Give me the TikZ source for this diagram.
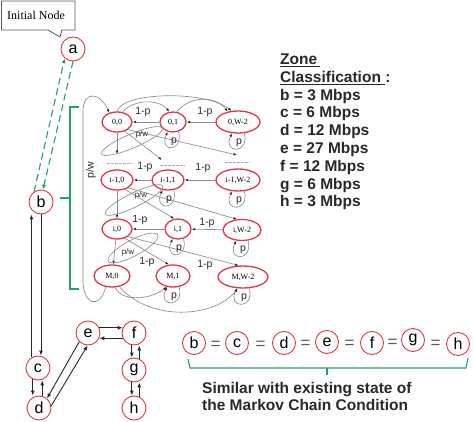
\documentclass[tikz,border=0pt]{standalone}
\usepackage{fontspec}
\setmainfont{Liberation Serif}
\setsansfont{Liberation Sans}
\usetikzlibrary{shapes.geometric,arrows.meta,calc}
\definecolor{redc}{RGB}{225,55,70}
\definecolor{grn}{RGB}{35,160,100}
\definecolor{edgeg}{RGB}{140,140,140}
\definecolor{dk}{RGB}{40,40,40}
\definecolor{pinkd}{RGB}{200,150,205}
\tikzset{
 circ/.style={circle, draw=redc, line width=0.9pt, minimum size=24pt, inner sep=0pt, fill=white, font=\sffamily\fontsize{16}{16}\selectfont},
 circs/.style={circ, minimum size=23pt},
 mk/.style={ellipse, draw=redc, line width=1.3pt, inner sep=0pt, font=\rmfamily\fontsize{8}{9}\selectfont},
 gedge/.style={draw=edgeg, line width=0.65pt, -{Latex[length=3.5pt,width=2.6pt,color=dk]}},
 gline/.style={draw=edgeg, line width=0.65pt},
 bedge/.style={draw=dk, line width=0.9pt, -{Latex[length=5pt,width=4pt]}},
 gdash/.style={draw=grn, line width=1.1pt, dash pattern=on 7pt off 4pt, -{Latex[length=5pt,width=4pt]}},
 lbl/.style={font=\sffamily\fontsize{10.5}{11}\selectfont, text=dk, inner sep=0pt},
 slbl/.style={font=\sffamily\fontsize{8}{9}\selectfont, text=dk, inner sep=0pt},
 zone/.style={font=\sffamily\bfseries\fontsize{15.5}{17}\selectfont, anchor=base west, inner sep=0pt, text=dk},
 eqs/.style={font=\sffamily\fontsize{17}{17}\selectfont, text=gray!70!black, inner sep=0pt},
 brk/.style={draw=grn, line width=1.1pt},
 pdash/.style={draw=pinkd, line width=0.8pt, dash pattern=on 2.5pt off 1.5pt},
}
\newcommand\mkloop[1]{%
 \draw[gedge] (#1.-60) .. controls +(5,22) and +(-10,20) .. (#1.-118);
 \node[lbl] (#1p) at ($(#1.south)+(1,9)$) {p};}
\begin{document}
\begin{tikzpicture}[x=1pt,y=-1pt]
\useasboundingbox (0,0) rectangle (474,422);

% callout
\draw[draw=gray!70!black, line width=0.8pt, fill=white] (1.5,1) -- (75,1) -- (75,30) -- (62,30) -- (60,37) -- (48,30) -- (1.5,30) -- cycle;
\node[font=\rmfamily\fontsize{12}{13}\selectfont, inner sep=0pt] (init) at (36,15) {Initial Node};

% main chain
\node[circ] (a) at (73,49) {a};
\node[circ] (b) at (41,202) {b};
\node[circ] (c) at (38,368) {c};
\node[circ] (d) at (39,408) {d};
\node[circ] (e) at (88,333) {e};
\node[circ] (f) at (134,333) {f};
\node[circ] (g) at (134,370) {g};
\node[circ] (h) at (134,408) {h};

\draw[gdash] (b.124) -- (a.-132);
\draw[gdash] (a.-90) -- (b.81);
\draw[bedge] (c.122) -- (c.122 |- b.south);
\draw[bedge] (b.south) -- (b.south |- c.north);
\draw[bedge] (c.-115) -- (c.-115 |- d.north);
\draw[bedge] (d.75) -- (d.75 |- c.south);
\draw[bedge] (e.-135) -- (d.50);
\draw[bedge] (d.10) -- (e.-92);
\draw[bedge] (e.25) -- (f.155);
\draw[bedge] (f.-155) -- (e.-25);
\draw[bedge] (f.-100) -- (f.-100 |- g.north);
\draw[bedge] (g.65) -- (g.65 |- f.south);
\draw[bedge] (g.-100) -- (g.-100 |- h.north);
\draw[bedge] (h.65) -- (h.65 |- g.south);

% green bracket
\draw[brk] (79,107) -- (70,107) -- (70,289) -- (79,289);
\draw[brk] (70,198) -- (60,198);

% Markov chain states
\node[mk, minimum width=30pt, minimum height=20pt] (n00) at (117,122) {0,0};
\node[mk, minimum width=26pt, minimum height=20pt] (n01) at (173,122) {0,1};
\node[mk, minimum width=44pt, minimum height=22pt] (n0W) at (238,122) {0,W-2};
\node[mk, minimum width=32pt, minimum height=20pt] (na0) at (117,180) {i-1,0};
\node[mk, minimum width=32pt, minimum height=20pt] (na1) at (168,180) {i-1,1};
\node[mk, minimum width=44pt, minimum height=22pt] (naW) at (238,180) {i-1,W-2};
\node[mk, minimum width=30pt, minimum height=20pt] (ni0) at (117,229) {i,0};
\node[mk, minimum width=26pt, minimum height=20pt] (ni1) at (178,229) {i,1};
\node[mk, minimum width=38pt, minimum height=21pt] (niW) at (242,230) {i,W-2};
\node[mk, minimum width=36pt, minimum height=22pt] (nM0) at (112,276) {M,0};
\node[mk, minimum width=34pt, minimum height=22pt] (nM1) at (173,276) {M,1};
\node[mk, minimum width=50pt, minimum height=22pt] (nMW) at (243,277) {M,W-2};

% horizontal transitions
\draw[gedge] (n01) -- (n00);
\draw[gedge] (n0W) -- (n01);
\draw[gedge] (na1) -- (na0);
\draw[gedge] (naW) -- (na1);
\draw[gedge] (ni1) -- (ni0);
\draw[gedge] (niW) -- (ni1);
\node[lbl] (l1) at (143,112) {1-p};
\node[lbl] (l2) at (205,112) {1-p};
\node[lbl] (l3) at (145,167) {1-p};
\node[lbl] (l4) at (203,168) {1-p};
\node[lbl] (l5) at (140,220) {1-p};
\node[lbl] (l6) at (207,223) {1-p};
\node[lbl] (l7) at (147,262) {1-p};
\node[lbl] (l8) at (205,265) {1-p};

% top arcs
\draw[gedge] (n00.north) .. controls (122,92) and (205,90) .. (n0W.120);
\draw[gedge] (n00.60) .. controls (132,100) and (158,98) .. (n01.110);
\draw[gedge] (n01.70) .. controls (190,96) and (215,95) .. (n0W.135);

% row 0 to dashed row
\coordinate (d1) at (117,154);
\coordinate (d2) at (162,160);
\coordinate (d3) at (237,155);
\draw[gedge] (n00.south) -- (d1);
\draw[gedge] (n00.-50) -- (d2);
\draw[gedge] (n00.-35) -- (d3);
\draw[pdash] (107,163) -- (132,163);
\draw[pdash] (160,165) -- (185,165);
\draw[pdash] (225,162) -- (250,162);

% row i-1 to row i
\draw[gedge] (na0) -- (ni0);
\draw[gedge] (na0.-50) -- (ni1.110);
\draw[gedge] (na0.-35) -- (niW.115);
% row i to row M
\draw[gedge] (ni0) -- (nM0);
\draw[gedge] (ni0.-50) -- (nM1.110);
\draw[gedge] (ni0.-35) -- (nMW.110);

% p/w loops
\draw[gline, rotate around={23:(132,141)}] (132,141) ellipse [x radius=33pt, y radius=7pt];
\draw[gline, rotate around={26:(134,200)}] (134,200) ellipse [x radius=32pt, y radius=7pt];
\draw[gline, rotate around={28:(133,248)}] (133,248) ellipse [x radius=28pt, y radius=8pt];
\node[slbl] (pw1) at (142,134) {p/w};
\node[slbl] (pw2) at (141,195) {p/w};
\node[slbl] (pw3) at (128,252) {p/w};

% self loops
\mkloop{n01}
\mkloop{n0W}
\mkloop{na1}
\mkloop{naW}
\mkloop{ni1}
\mkloop{niW}
\mkloop{nM1}
\mkloop{nMW}

% bottom arcs
\draw[gedge] (nM0.-75) .. controls (122,302) and (150,300) .. (nM1.-120);
\draw[gedge] (nM0.-55) .. controls (150,322) and (215,318) .. (nMW.-115);
\draw[gedge] (nM0.-120) .. controls (100,310) and (83,305) .. (83,280) -- (83,112) .. controls (83,90) and (100,92) .. (n00.130);
\node[lbl, rotate=90] (pwbig) at (91,170) {p/w};

% zone classification
\node[zone] (z0) at (280,64.5) {\underline{Zone\,}};
\node[zone] (z1) at (280,82.3) {\underline{Classification\ }:};
\node[zone] (z2) at (280,100.1) {b = 3 Mbps};
\node[zone] (z3) at (280,117.9) {c = 6 Mbps};
\node[zone] (z4) at (280,135.7) {d = 12 Mbps};
\node[zone] (z5) at (280,153.5) {e = 27 Mbps};
\node[zone] (z6) at (280,171.3) {f = 12 Mbps};
\node[zone] (z7) at (280,189.1) {g = 6 Mbps};
\node[zone] (z8) at (280,206.9) {h = 3 Mbps};

% equality chain
\node[circs] (qb) at (194,343) {b};
\node[circs] (qc) at (237,343) {c};
\node[circs] (qd) at (284,343) {d};
\node[circs] (qe) at (327,342) {e};
\node[circs] (qf) at (372,343) {f};
\node[circs] (qg) at (413,340) {g};
\node[circs] (qh) at (458,344) {h};
\node[eqs] (q1) at ($(qb)!0.5!(qc)+(0,2)$) {=};
\node[eqs] (q2) at ($(qc)!0.5!(qd)+(0,2)$) {=};
\node[eqs] (q3) at ($(qd)!0.5!(qe)+(0,2)$) {=};
\node[eqs] (q4) at ($(qe)!0.5!(qf)+(0,2)$) {=};
\node[eqs] (q5) at ($(qf)!0.5!(qg)+(0,2)$) {=};
\node[eqs] (q6) at ($(qg)!0.5!(qh)+(0,2)$) {=};
\draw[brk] (188,359) -- (190,368) -- (466,368) -- (468,358);
\draw[brk] (327,368) -- (327,375);
\node[zone] (s1) at (202,393.5) {Similar with existing state of};
\node[zone] (s2) at (202,410.5) {the Markov Chain Condition};
\end{tikzpicture}
\end{document}
